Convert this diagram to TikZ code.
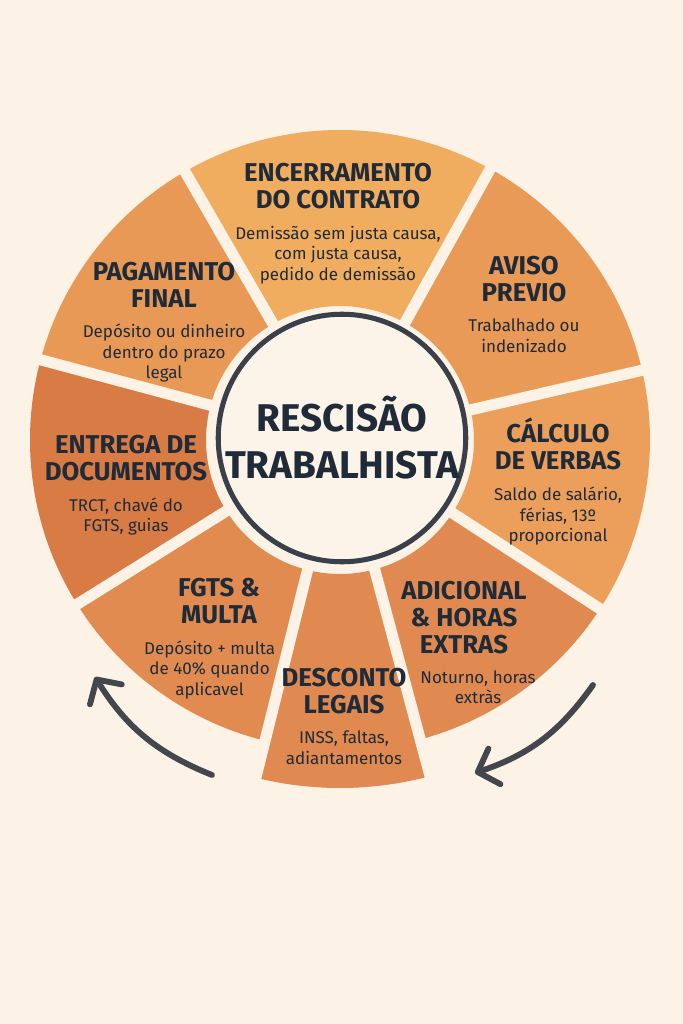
\documentclass[tikz,border=0pt]{standalone}
\usepackage{fontspec}
\setmainfont{Fira Sans}
\usetikzlibrary{arrows.meta,positioning}

\definecolor{bgcream}{HTML}{FCF2E5}
\definecolor{hubcream}{HTML}{FDF4E9}
\definecolor{inkdark}{HTML}{1F2B38}
\definecolor{ringgray}{HTML}{3A4049}
\definecolor{arrowgray}{HTML}{42474D}
\definecolor{encFill}{HTML}{F1AD5F}
\definecolor{aviFill}{HTML}{E99A57}
\definecolor{calFill}{HTML}{EC9F5A}
\definecolor{adiFill}{HTML}{E08A51}
\definecolor{desFill}{HTML}{E08950}
\definecolor{fgtFill}{HTML}{E18B50}
\definecolor{entFill}{HTML}{D87B44}
\definecolor{pagFill}{HTML}{E99956}

\begin{document}
\begin{tikzpicture}[x=0.3mm,y=0.3mm,
    >={Straight Barb[length=15pt,width=32pt,round]},
    seghead/.style={inner sep=0pt,anchor=north,align=center,text=inkdark,
      font=\fontsize{22}{23}\selectfont\bfseries},
    segbody/.style={inner sep=0pt,align=center,text=inkdark,
      font=\fontsize{14.5}{17.5}\selectfont},
    gapline/.style={bgcream,line width=9.5pt},
    node distance=14pt]
  \fill[bgcream] (-340,-584) rectangle (343,440);
  \useasboundingbox (-340,-584) rectangle (343,440);

  % wheel segments
  \fill[encFill] (61:134) -- (61:310) arc[start angle=61,end angle=120,radius=310] -- (120:134) arc[start angle=120,end angle=61,radius=134] -- cycle;
  \fill[pagFill] (120:134) -- (120:310) arc[start angle=120,end angle=165,radius=310] -- (165:134) arc[start angle=165,end angle=120,radius=134] -- cycle;
  \fill[entFill] (165:134) -- (165:310) arc[start angle=165,end angle=212,radius=310] -- (212:134) arc[start angle=212,end angle=165,radius=134] -- cycle;
  \fill[fgtFill] (212:134) -- (212:310) arc[start angle=212,end angle=256,radius=310] -- (256:134) arc[start angle=256,end angle=212,radius=134] -- cycle;
  \fill[desFill] (256:134) -- (256:348) arc[start angle=256,end angle=285,radius=348] -- (285:134) arc[start angle=285,end angle=256,radius=134] -- cycle;
  \fill[adiFill] (285:134) -- (285:310) arc[start angle=285,end angle=327,radius=310] -- (327:134) arc[start angle=327,end angle=285,radius=134] -- cycle;
  \fill[calFill] (327:134) -- (327:310) arc[start angle=327,end angle=373,radius=310] -- (373:134) arc[start angle=373,end angle=327,radius=134] -- cycle;
  \fill[aviFill] (13:134) -- (13:310) arc[start angle=13,end angle=61,radius=310] -- (61:134) arc[start angle=61,end angle=13,radius=134] -- cycle;
  \draw[gapline] (13:125) -- (13:365) (61:125) -- (61:365) (120:125) -- (120:365)
    (165:125) -- (165:365) (212:125) -- (212:365) (256:125) -- (256:365)
    (285:125) -- (285:365) (327:125) -- (327:365);

  % hub
  \node[circle,draw=ringgray,line width=4.3pt,fill=hubcream,minimum size=70.8mm,
        inner sep=0pt,align=center,text=inkdark,
        font=\fontsize{33}{40}\selectfont\bfseries] (hub) at (2,2) {RESCISÃO\\TRABALHISTA};

  % segment texts
  \node[seghead] (encHead) at (-2,277) {ENCERRAMENTO\\DO CONTRATO};
  \node[segbody,below=of encHead] (encBody) {Demissão sem justa causa,\\com justa causa,\\pedido de demissão};
  \node[seghead] (aviHead) at (184,184) {AVISO\\PREVIO};
  \node[segbody,below=of aviHead] (aviBody) {Trabalhado ou\\indenizado};
  \node[seghead] (calHead) at (218,22) {CÁLCULO\\DE VERBAS};
  \node[segbody,below=of calHead] (calBody) {Saldo de salário,\\férias, 13º\\proporcional};
  \node[seghead] (adiHead) at (124,-141) {ADICIONAL\\\& HORAS\\EXTRAS};
  \node[segbody,below=of adiHead,xshift=12pt] (adiBody) {Noturno, horas\\extràs};
  \node[seghead] (desHead) at (4,-228) {DESCONTO\\LEGAIS};
  \node[segbody,below=of desHead] (desBody) {INSS, faltas,\\adiantamentos};
  \node[seghead] (fgtHead) at (-121,-138) {FGTS \&\\MULTA};
  \node[segbody,below=of fgtHead,xshift=-8pt] (fgtBody) {Depósito + multa\\de 40\% quando\\aplicavel};
  \node[seghead] (entHead) at (-214,5) {ENTREGA DE\\DOCUMENTOS};
  \node[segbody,below=of entHead] (entBody) {TRCT, chavé do\\FGTS, guias};
  \node[seghead] (pagHead) at (-176,178) {PAGAMENTO\\FINAL};
  \node[segbody,below=of pagHead] (pagBody) {Depósito ou dinheiro\\dentro do prazo\\legal};

  % cycle arrows
  \coordinate (backTail) at (-128,-335);
  \coordinate (backTip) at (-245,-237);
  \coordinate (fwdTail) at (253,-245);
  \coordinate (fwdTip) at (135,-333);
  \draw[->,arrowgray,line width=5pt,line cap=round] (backTail) to[bend left=18] (backTip);
  \draw[->,arrowgray,line width=5pt,line cap=round] (fwdTail) to[bend left=18] (fwdTip);
\end{tikzpicture}
\end{document}
